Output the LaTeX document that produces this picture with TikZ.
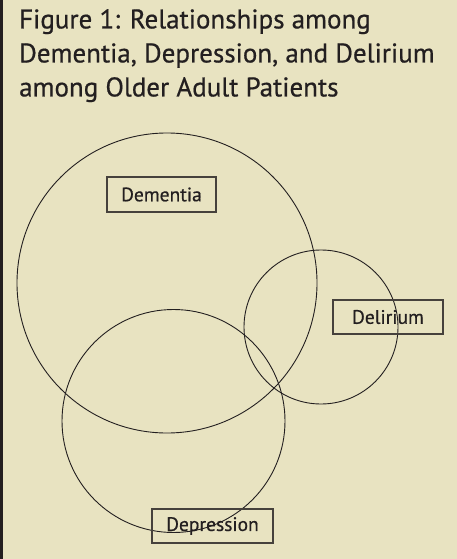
\documentclass[tikz,border=0pt]{standalone}
\usepackage{fontspec}
\setmainfont[FakeBold=0.6]{PT Sans}
\definecolor{bg}{RGB}{232,227,193}
\definecolor{ink}{RGB}{35,31,32}
\definecolor{boxline}{RGB}{70,65,60}
\tikzset{
  setcircle/.style={circle, draw=ink, line width=0.9pt, inner sep=0pt},
  labelbox/.style={draw=boxline, line width=1.3pt, inner sep=0pt, text=ink,
    font=\fontsize{19.5}{22}\selectfont},
}
\begin{document}
\begin{tikzpicture}[x=1pt,y=-1pt]
\fill[bg] (0,0) rectangle (457,559);
\useasboundingbox (0,0) rectangle (457,559);
\draw[line width=2.5pt, ink] (1.25,0) -- (1.25,559);
\node[anchor=north west, align=left, inner sep=0pt, text=ink,
  font=\fontsize{27}{34}\selectfont] (title) at (19,9)
  {Figure 1: Relationships among\\Dementia, Depression, and Delirium\\among Older Adult Patients};
\node[setcircle, minimum size=300pt] (demC) at (167,283) {};
\node[setcircle, minimum size=223pt] (depC) at (173.5,421) {};
\node[setcircle, minimum size=154pt] (delC) at (321,327) {};
\node[labelbox, minimum width=109pt, minimum height=35pt] (dem) at (161.5,194.5) {Dementia};
\node[labelbox, minimum width=110pt, minimum height=34pt] (del) at (388,317) {Delirium};
\node[labelbox, minimum width=121pt, minimum height=34pt] (dep) at (212.5,526) {Depression};
\end{tikzpicture}
\end{document}
